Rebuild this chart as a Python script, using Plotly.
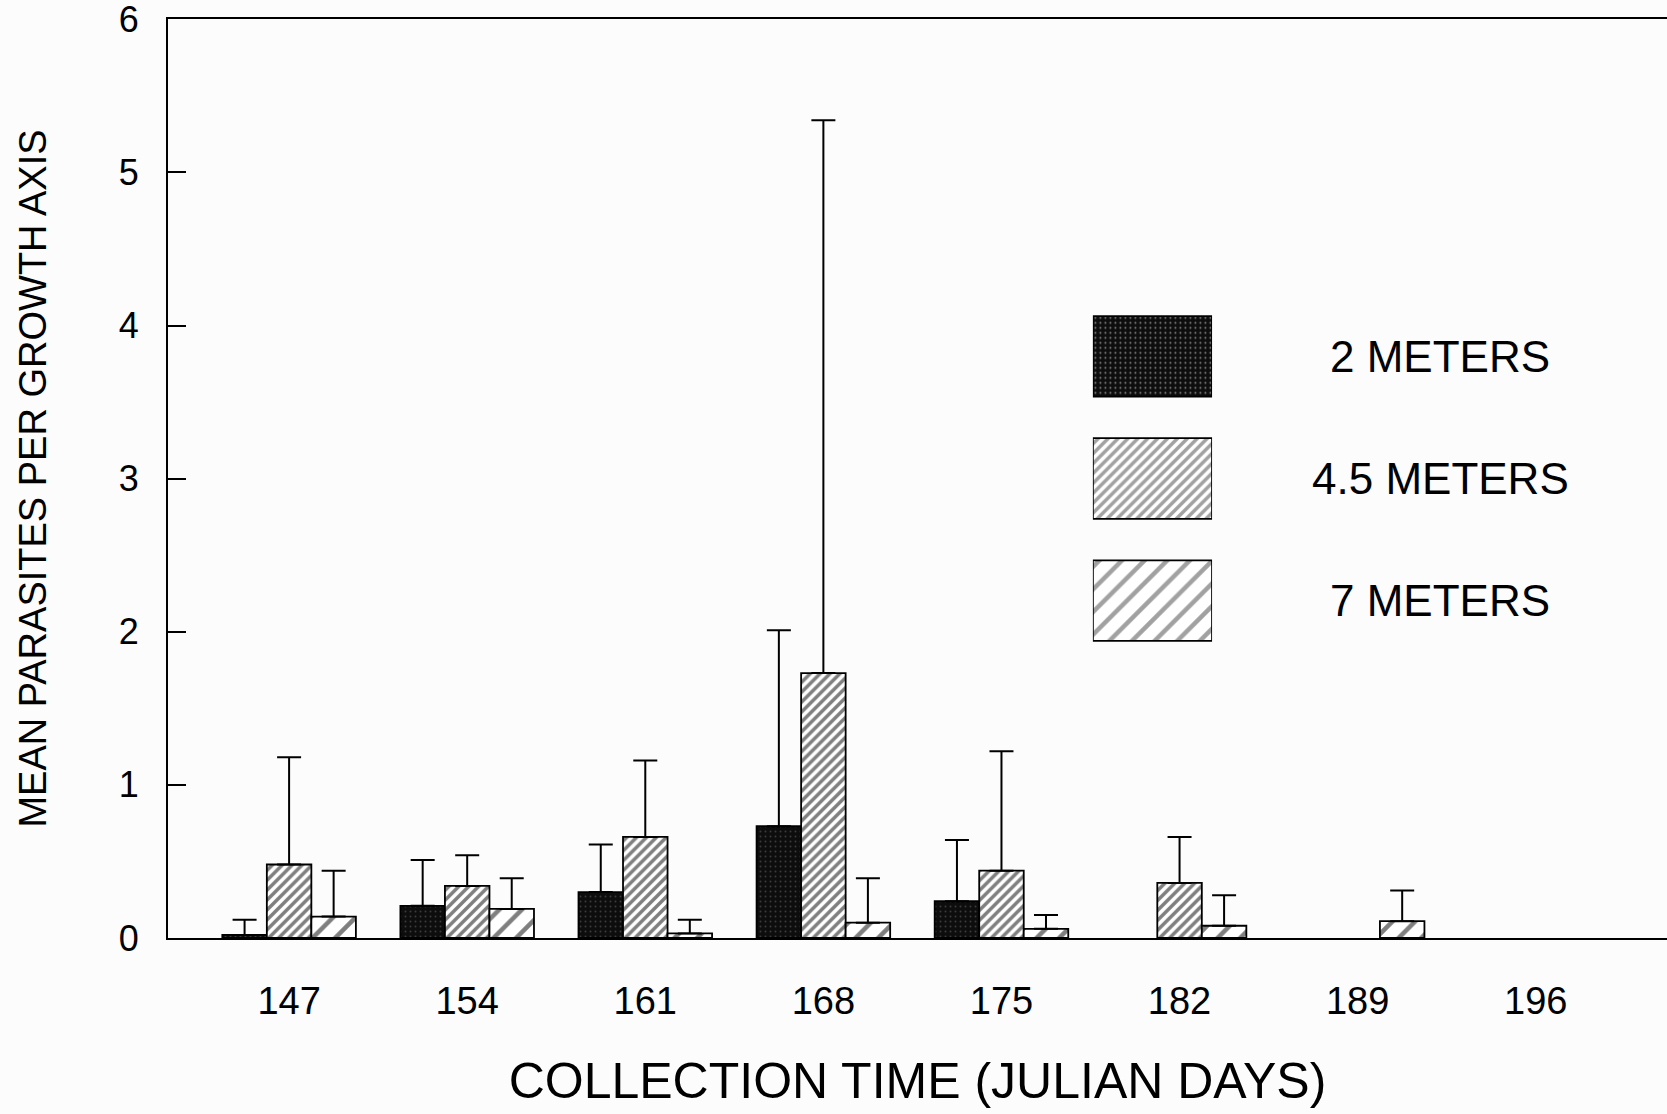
import plotly.graph_objects as go

days = ["147", "154", "161", "168", "175", "182", "189", "196"]
series = ["2 METERS", "4.5 METERS", "7 METERS"]

mean_2m = [0.02, 0.21, 0.30, 0.73, 0.24, None, None, None]
err_2m = [0.10, 0.30, 0.31, 1.28, 0.40, None, None, None]
mean_45m = [0.48, 0.34, 0.66, 1.73, 0.44, 0.36, None, None]
err_45m = [0.70, 0.20, 0.50, 3.61, 0.78, 0.30, None, None]
mean_7m = [0.14, 0.19, 0.03, 0.10, 0.06, 0.08, 0.11, None]
err_7m = [0.30, 0.20, 0.09, 0.29, 0.09, 0.20, 0.20, None]

FONT = "Liberation Sans, Arial, sans-serif"

styles = [
    dict(color="#0d0d0d", pattern=dict(shape=".", fgcolor="#6a6a6a", bgcolor="#0d0d0d", size=5, solidity=0.12)),
    dict(color="white", pattern=dict(shape="/", fgcolor="black", bgcolor="white", size=7, solidity=0.5)),
    dict(color="white", pattern=dict(shape="/", fgcolor="black", bgcolor="white", size=16, solidity=0.28)),
]

fig = go.Figure()
for name, vals, errs, st in zip(series, [mean_2m, mean_45m, mean_7m], [err_2m, err_45m, err_7m], styles):
    fig.add_trace(go.Bar(
        x=days, y=vals, name=name, showlegend=False,
        marker=dict(color=st["color"], pattern=st["pattern"], line=dict(color="black", width=1.8)),
        error_y=dict(type="data", symmetric=False, array=errs, arrayminus=[0 if e is not None else None for e in errs],
                     color="black", thickness=2, width=12),
    ))

# legend keys drawn as bars in an inset axis
fig.add_trace(go.Bar(
    y=series, x=[1, 1, 1], orientation="h", width=0.66, xaxis="x2", yaxis="y2", showlegend=False,
    marker=dict(color=[s["color"] for s in styles],
                pattern=dict(shape=[s["pattern"]["shape"] for s in styles],
                             fgcolor=[s["pattern"]["fgcolor"] for s in styles],
                             bgcolor=[s["pattern"]["bgcolor"] for s in styles],
                             size=[s["pattern"]["size"] for s in styles],
                             solidity=[s["pattern"]["solidity"] for s in styles]),
                line=dict(color="black", width=1.8)),
    hoverinfo="skip",
))

for i, name in enumerate(series):
    fig.add_annotation(x=0.8486, xref="paper", xanchor="center", y=name, yref="y2",
                       text=name, showarrow=False, font=dict(size=44, color="black", family=FONT))

fig.update_layout(
    width=1667, height=1114,
    margin=dict(l=168, r=0, t=19, b=176),
    paper_bgcolor="#fcfcfc", plot_bgcolor="#fcfcfc",
    barmode="group", bargap=0.25, bargroupgap=0,
    font=dict(family=FONT, color="black"),
    xaxis=dict(type="category", categoryorder="array", categoryarray=days, range=[-0.68, 7.737],
               showline=True, mirror=True, linecolor="black", linewidth=2, ticks="", automargin=False,
               showgrid=False, zeroline=False, tickfont=dict(size=38), ticklabelstandoff=28,
               title=dict(text="COLLECTION TIME (JULIAN DAYS)", font=dict(size=50), standoff=42)),
    yaxis=dict(range=[0, 6.002], tickvals=[0, 1, 2, 3, 4, 5, 6], showline=True, linecolor="black", linewidth=2,
               ticks="inside", ticklen=18, tickwidth=2, tickcolor="black", ticklabeloverflow="allow",
               automargin=False,
               showgrid=False, zeroline=False, tickfont=dict(size=36), ticklabelstandoff=20,
               title=dict(text="MEAN PARASITES PER GROWTH AXIS", font=dict(size=38), standoff=60)),
    xaxis2=dict(domain=[0.617, 0.6965], range=[0, 1], anchor="y2", visible=False, fixedrange=True),
    yaxis2=dict(domain=[0.3007, 0.6993], range=[2.5, -0.5], anchor="x2", type="category",
                categoryorder="array", categoryarray=series, visible=False, fixedrange=True),
)

fig.write_html("out.html")
